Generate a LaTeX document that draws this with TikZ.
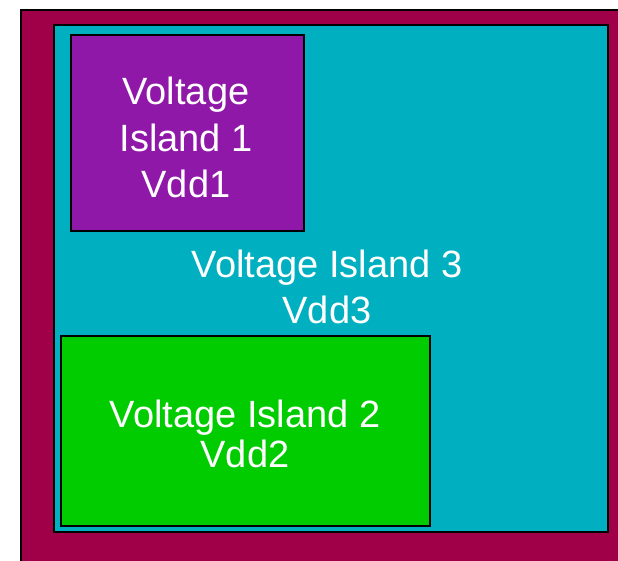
\documentclass[tikz,border=0pt]{standalone}
\usepackage{fontspec}
\setmainfont{Liberation Sans}
\usepackage{xcolor}
\usetikzlibrary{positioning}

\definecolor{chipred}{RGB}{160,0,72}
\definecolor{vicyan}{RGB}{0,176,192}
\definecolor{vipurple}{RGB}{144,24,168}
\definecolor{vigreen}{RGB}{0,204,0}

\begin{document}
\begin{tikzpicture}[
            x=0.5pt, y=-0.5pt,                  % 1 unidad = 1 pixel de la referencia
            island/.style={
                rectangle,
                draw=black,
                line width=1pt,
                anchor=north west,
                inner sep=0pt,
                outer sep=0pt
            },
            islandtext/.style={
                text=white,
                align=center,
                anchor=north,
                inner sep=0pt,
                font=\fontsize{19}{23.25}\selectfont
            }
        ]
            \useasboundingbox (0,0) rectangle (618,561);
            \clip (0,0) rectangle (618,561);

            % --- REGIONES ---
            \node [island, fill=chipred, minimum width=320pt, minimum height=290pt] (chip) at (21,10) {};
            \node [island, fill=vicyan, minimum width=277pt, minimum height=253.5pt] (vi3) at (54,25) {};
            \node [island, fill=vipurple, minimum width=116.5pt, minimum height=98pt] (vi1) at (71,35) {};
            \node [island, fill=vigreen, minimum width=184.5pt, minimum height=95pt] (vi2) at (61,336) {};

            % --- TEXTOS ---
            \node [islandtext] (vi1_label) at (186,77) {Voltage\\Island 1\\Vdd1};
            \node [islandtext, font=\fontsize{19}{23}\selectfont] (vi3_label) at (327,250) {Voltage Island 3\\Vdd3};
            \node [islandtext, font=\fontsize{19}{20}\selectfont] (vi2_label) at (245,400) {Voltage Island 2\\Vdd2};
        \end{tikzpicture}
\end{document}
